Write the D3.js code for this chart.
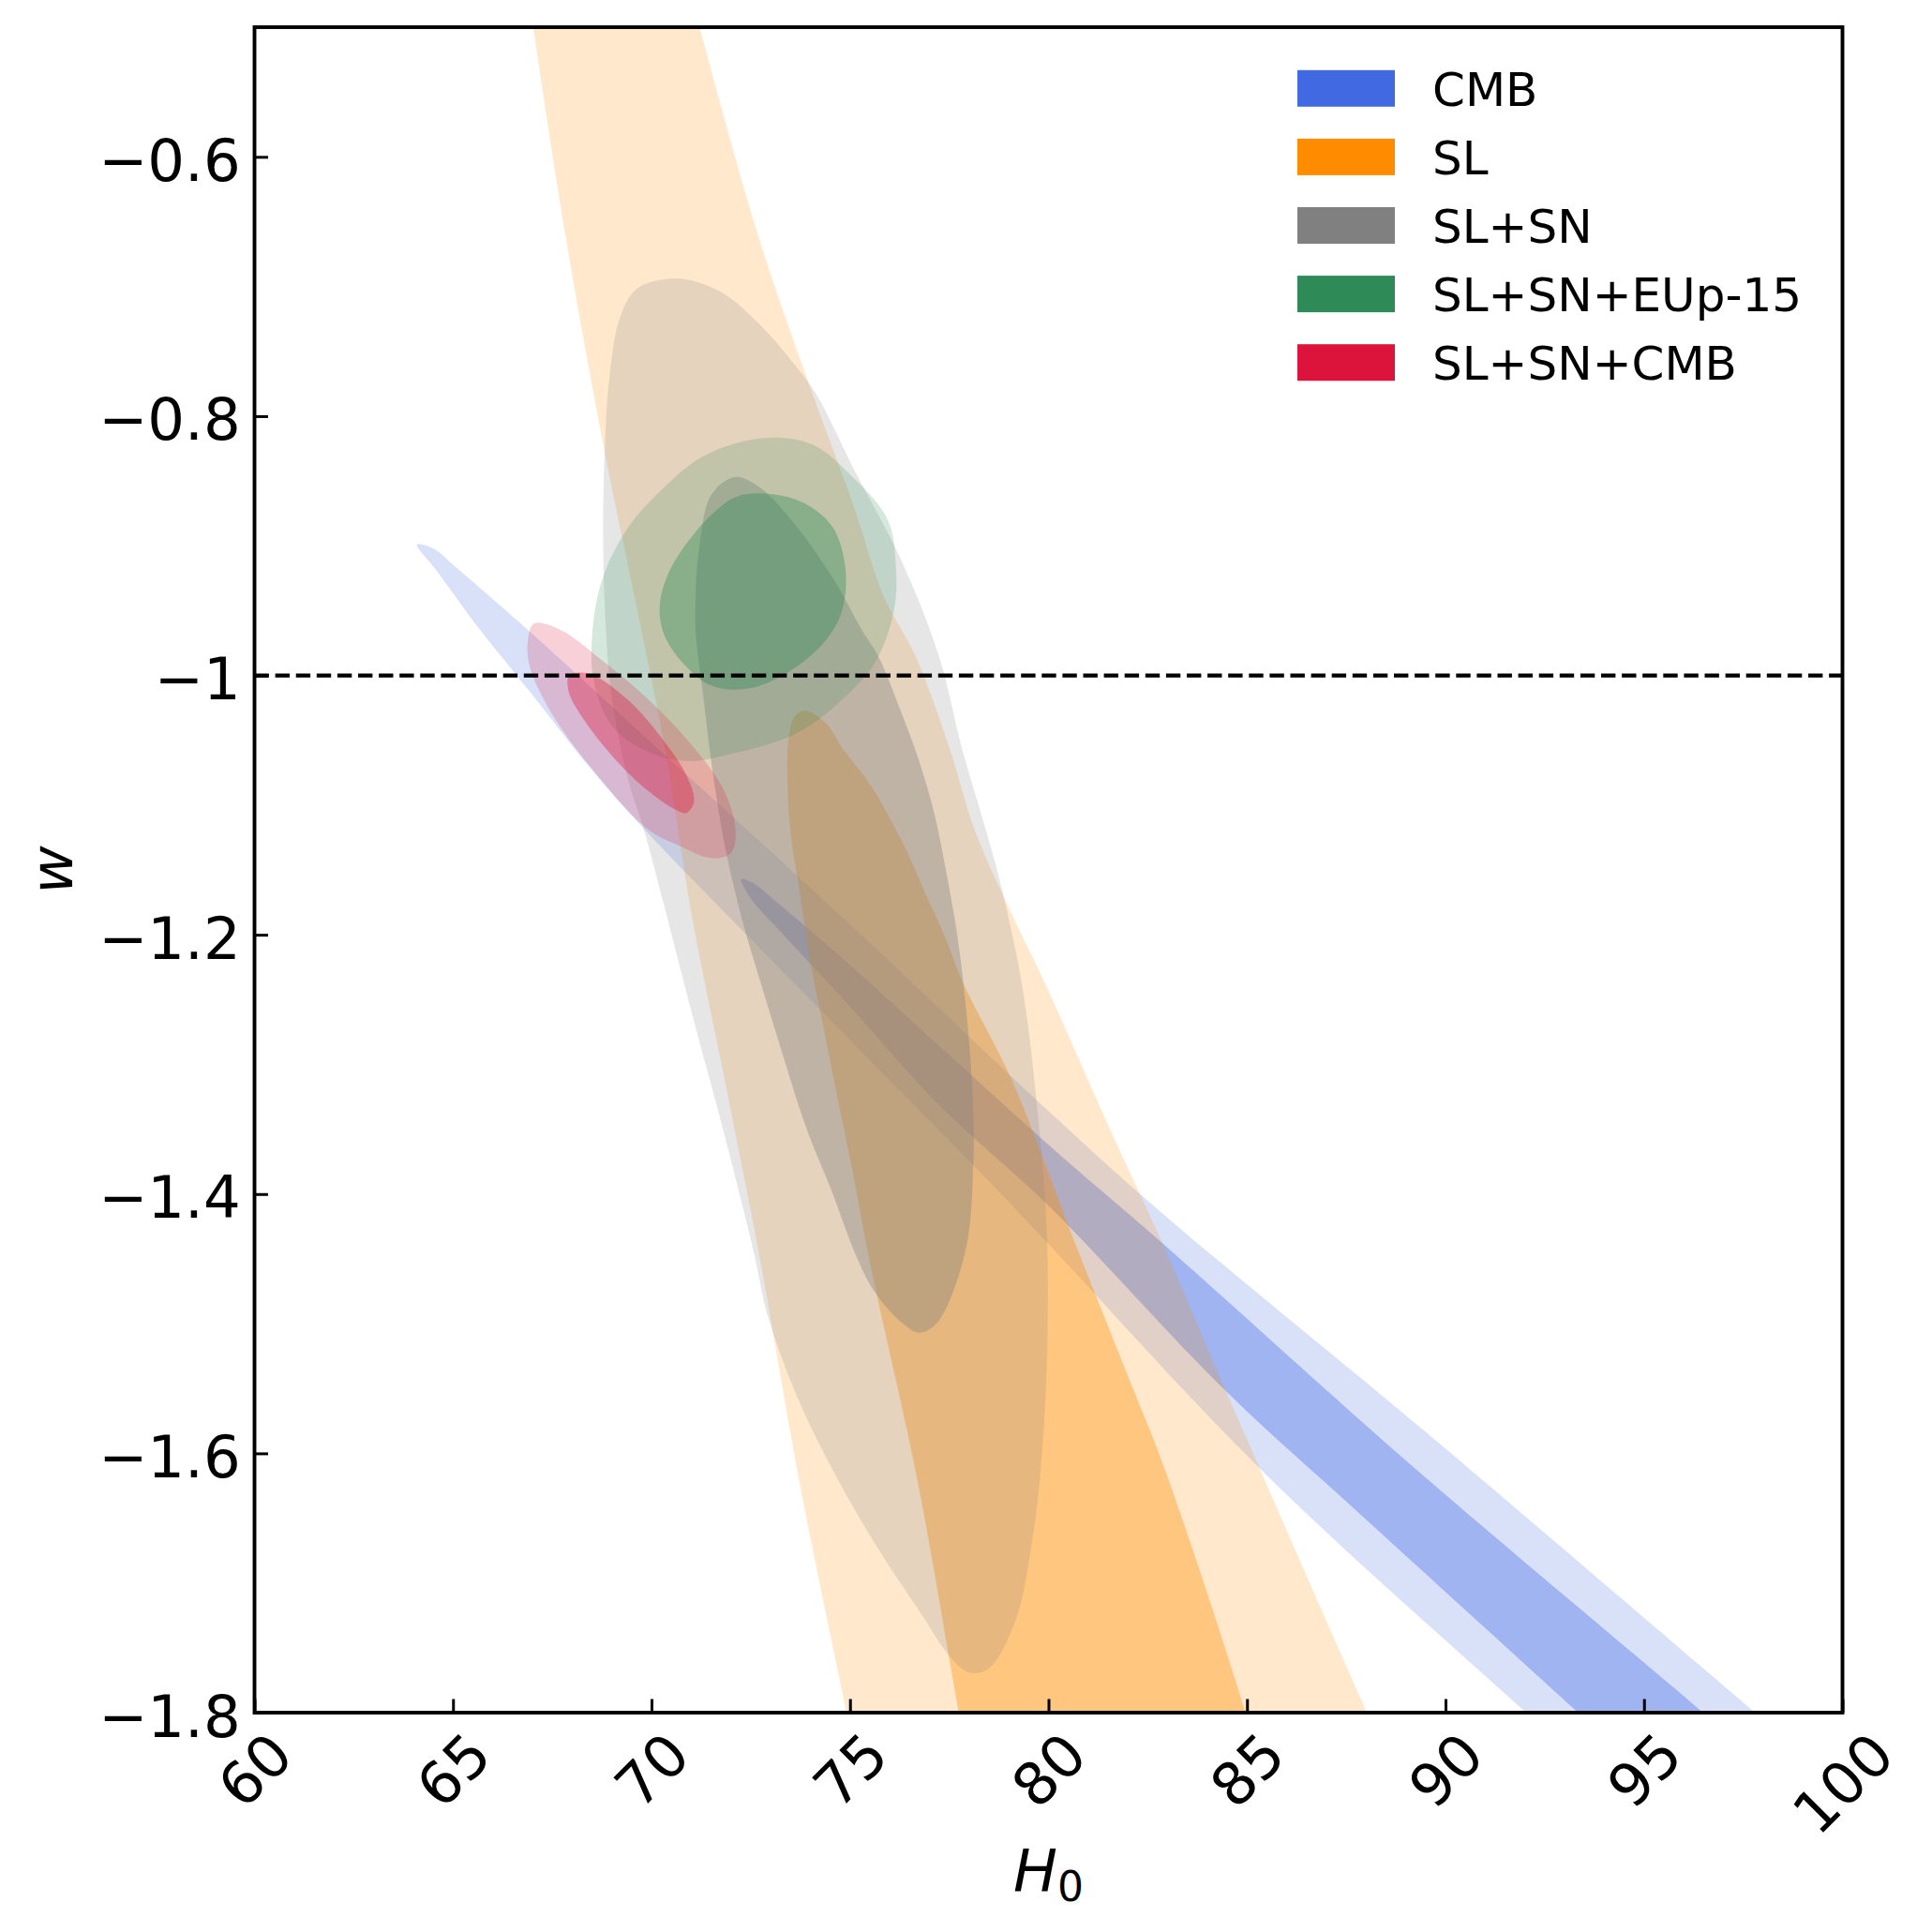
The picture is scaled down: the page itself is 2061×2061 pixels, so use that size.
<!DOCTYPE html>
<html>
<head>
<meta charset="utf-8">
<script src="https://cdn.jsdelivr.net/npm/d3@7"></script>
<style>
  html, body { margin: 0; padding: 0; background: #fff; }
  svg { display: block; }
</style>
</head>
<body>
<svg id="chart"></svg>
<script>
// contour outlines, in data units [H0, w]
var cmbOuter = [[64.09,-0.899],[64.5,-0.902],[65.09,-0.917],[66.67,-0.959],[70.0,-1.052],[75.0,-1.192],[80.0,-1.336],[82.87,-1.415],[89.48,-1.583],[97.80,-1.800],[100.1,-1.86],
                [94.2,-1.86],[92.03,-1.800],[85.4,-1.614],[79.09,-1.409],[74.0,-1.250],[69.80,-1.118],[68.47,-1.072],[67.0,-1.015],[65.61,-0.962],[64.56,-0.918]]
var cmbInner = [[72.26,-1.157],[72.6,-1.161],[73.2,-1.176],[74.84,-1.219],[80.0,-1.362],[82.87,-1.438],[89.32,-1.614],[96.49,-1.800],[98.75,-1.86],
                [95.5,-1.86],[93.34,-1.800],[88.0,-1.651],[84.47,-1.552],[80.0,-1.409],[77.2,-1.330],[74.84,-1.250],[73.2,-1.196],[72.5,-1.172]]

var slOuter = [[66.75,-0.44],[67.02,-0.5],[67.83,-0.66],[68.78,-0.821],[70.3,-1.05],[71.06,-1.1925],[71.85,-1.313],[72.72,-1.448],[73.72,-1.621],[74.91,-1.8],[75.3,-1.86],
               [88.9,-1.86],[88.02,-1.8],[84.47,-1.552],[82.87,-1.438],[81.61,-1.354],[79.92,-1.238],[79.09,-1.185],[78.15,-1.120],[77.52,-1.0575],[76.65,-0.985],[75.85,-0.939],
               [75.10,-0.870],[73.94,-0.773],[72.68,-0.660],[71.21,-0.5],[70.7,-0.44]]
var slInner = [[73.86,-1.027],[73.6,-1.032],[73.45,-1.050],[73.42,-1.072],[73.50,-1.120],[73.74,-1.168],[74.05,-1.229],[74.37,-1.277],[74.68,-1.325],[75.08,-1.385],[75.47,-1.448],
               [76.70,-1.621],[77.74,-1.8],[78.1,-1.86],
               [85.5,-1.86],[84.96,-1.8],[82.95,-1.614],[81.93,-1.535],[80.67,-1.438],[79.09,-1.313],[77.83,-1.236],[77.40,-1.202],[76.97,-1.173],[76.34,-1.130],[75.55,-1.086],
               [74.84,-1.0575],[74.37,-1.036]]

var snOuter = [[70.46,-0.694],[71.2,-0.697],[71.94,-0.708],[72.78,-0.731],[73.52,-0.757],[74.15,-0.783],[75.10,-0.841],[76.32,-0.913],[77.24,-0.985],[77.83,-1.0575],[78.38,-1.115],
               [78.78,-1.159],[79.33,-1.238],[79.72,-1.335],[79.96,-1.431],[79.96,-1.527],[79.80,-1.614],[79.60,-1.665],[79.18,-1.728],[78.49,-1.766],[78.0,-1.769],[77.50,-1.756],
               [76.80,-1.724],[75.80,-1.678],[74.71,-1.621],[73.72,-1.560],[72.92,-1.493],[72.60,-1.448],[72.16,-1.393],[71.69,-1.337],[71.22,-1.284],[70.75,-1.229],[70.28,-1.173],
               [69.80,-1.118],[69.41,-1.080],[68.99,-1.015],[68.83,-0.951],[68.78,-0.886],[68.83,-0.821],[68.93,-0.773],[69.2,-0.7245],[69.62,-0.702]]
var snInner = [[72.10,-0.847],[72.68,-0.854],[73.52,-0.880],[74.57,-0.925],[75.3,-0.965],[75.71,-0.985],[76.26,-1.026],[76.73,-1.065],[77.12,-1.106],[77.44,-1.154],[77.71,-1.202],
               [77.91,-1.253],[78.07,-1.313],[78.11,-1.373],[77.90,-1.445],[77.20,-1.499],[76.75,-1.507],[76.30,-1.499],[75.61,-1.475],[75.16,-1.448],[74.53,-1.397],[73.90,-1.349],
               [73.27,-1.289],[72.79,-1.241],[72.32,-1.1925],[71.85,-1.132],[71.53,-1.072],[71.3,-1.015],[71.12,-0.97],[71.10,-0.951],[71.20,-0.902],[71.52,-0.860]]

var eupOuter = [[72.78,-0.817],[74.05,-0.822],[75.10,-0.848],[75.95,-0.880],[76.16,-0.919],[76.10,-0.951],[75.63,-0.990],[74.68,-1.022],[73.63,-1.045],[71.94,-1.061],[70.88,-1.066],
                [69.83,-1.058],[68.98,-1.038],[68.54,-1.003],[68.51,-0.967],[68.77,-0.925],[69.41,-0.886],[70.25,-0.857],[71.30,-0.831]]
var eupInner = [[72.15,-0.862],[72.99,-0.860],[73.84,-0.867],[74.57,-0.886],[74.89,-0.919],[74.79,-0.951],[74.36,-0.974],[73.52,-0.996],[72.46,-1.010],[71.52,-1.008],[70.78,-0.990],
                [70.30,-0.967],[70.21,-0.945],[70.46,-0.919],[71.09,-0.890],[71.62,-0.873]]

var cmbJointOuter = [[67.04,-0.960],[67.72,-0.965],[68.78,-0.989],[70.04,-1.022],[71.10,-1.057],[71.83,-1.089],[72.12,-1.120],[72.0,-1.137],[71.54,-1.141],[70.67,-1.131],
                     [69.88,-1.118],[68.50,-1.072],[67.50,-1.030],[66.95,-0.995],[66.88,-0.975]]
var cmbJointInner = [[67.93,-1.000],[68.46,-0.999],[69.41,-1.019],[70.25,-1.048],[70.88,-1.077],[71.07,-1.097],[70.88,-1.106],[70.57,-1.103],[69.83,-1.087],[68.98,-1.061],
                     [68.25,-1.032],[67.91,-1.012]]

var names = ["CMB", "SL", "SL+SN", "SL+SN+EUp-15", "SL+SN+CMB"]
var colors = ["#4169E1", "#FF8C00", "#808080", "#2E8B57", "#DC143C"]
var outers = [cmbOuter, slOuter, snOuter, eupOuter, cmbJointOuter]
var inners = [cmbInner, slInner, snInner, eupInner, cmbJointInner]

var xTicks = [60, 65, 70, 75, 80, 85, 90, 95, 100]
var yTicks = [-1.8, -1.6, -1.4, -1.2, -1.0, -0.8, -0.6]
var yTickLabels = ["\u22121.8", "\u22121.6", "\u22121.4", "\u22121.2", "\u22121", "\u22120.8", "\u22120.6"]
var refW = -1

var dimensions = {
    width: 2061,
    height: 2061,
    margin: { top: 29, bottom: 234, left: 271.5, right: 95.5 }
}
var fontFamily = "'DejaVu Sans', sans-serif"

var svg = d3.select("#chart")
            .attr("width", dimensions.width)
            .attr("height", dimensions.height)

svg.append("rect").attr("width", dimensions.width).attr("height", dimensions.height).attr("fill", "white")

var xScale = d3.scaleLinear()
        .domain([60, 100])
        .range([dimensions.margin.left, dimensions.width - dimensions.margin.right])
var yScale = d3.scaleLinear()
        .domain([-1.8, -0.5])
        .range([dimensions.height - dimensions.margin.bottom, dimensions.margin.top])

var x0 = xScale.range()[0], x1 = xScale.range()[1]
var yTop = yScale.range()[1], yBot = yScale.range()[0]

svg.append("clipPath").attr("id", "plotclip")
   .append("rect")
   .attr("x", x0).attr("y", yTop)
   .attr("width", x1 - x0).attr("height", yBot - yTop)

var contour = d3.line()
        .x(d => xScale(d[0]))
        .y(d => yScale(d[1]))
        .curve(d3.curveCatmullRomClosed.alpha(0.5))

var plot = svg.append("g").attr("clip-path", "url(#plotclip)")

names.forEach(function(name, i){
    plot.append("path")
        .attr("d", contour(outers[i]))
        .attr("fill", colors[i])
        .attr("fill-opacity", 0.2)
    plot.append("path")
        .attr("d", contour(inners[i]))
        .attr("fill", colors[i])
        .attr("fill-opacity", 0.375)
})

// w = -1 reference line
plot.append("line")
    .attr("x1", x0).attr("x2", x1)
    .attr("y1", yScale(refW)).attr("y2", yScale(refW))
    .attr("stroke", "black")
    .attr("stroke-width", 4.2)
    .attr("stroke-dasharray", "15.4,6.7")

// axes, ticks pointing inwards
var xAxisGen = d3.axisBottom(xScale).tickValues(xTicks).tickSizeInner(-14.5).tickSizeOuter(0).tickFormat("")
var xAxis = svg.append("g")
        .attr("transform", `translate(0,${yBot})`)
        .call(xAxisGen)
xAxis.select(".domain").remove()
xAxis.selectAll(".tick line").attr("stroke-width", 3)

var yAxisGen = d3.axisLeft(yScale).tickValues(yTicks).tickSizeInner(-14.5).tickSizeOuter(0).tickPadding(14.8)
        .tickFormat((d, i) => yTickLabels[i])
var yAxis = svg.append("g")
        .attr("transform", `translate(${x0},0)`)
        .call(yAxisGen)
yAxis.select(".domain").remove()
yAxis.selectAll(".tick line").attr("stroke-width", 3)
yAxis.selectAll(".tick text")
     .attr("dy", "0.4em")
     .style("font-family", fontFamily)
     .style("font-size", "62.5px")
     .attr("fill", "black")

// rotated x tick labels
var fs = 62.5
xTicks.forEach(function(t){
    var g = svg.append("g")
    var txt = g.append("text")
        .attr("text-anchor", "middle")
        .attr("y", 0.3645 * fs)
        .style("font-family", fontFamily)
        .style("font-size", fs + "px")
        .text(String(t))
    var w = txt.node().getComputedTextLength()
    var cy = yBot + 7 + (w + 1.164 * fs) * 0.3536
    g.attr("transform", `translate(${xScale(t)},${cy}) rotate(-45)`)
})

// axis titles
var xTitle = svg.append("text")
        .attr("x", (x0 + x1) / 2)
        .attr("y", 2018)
        .attr("text-anchor", "middle")
        .style("font-family", fontFamily)
        .style("font-size", "62.5px")
xTitle.append("tspan").style("font-style", "italic").text("H")
xTitle.append("tspan").attr("dy", 10).style("font-size", "44px").text("0")

svg.append("text")
   .attr("transform", `translate(76.7,${(yTop + yBot) / 2}) rotate(-90)`)
   .attr("text-anchor", "middle")
   .style("font-family", fontFamily)
   .style("font-style", "italic")
   .style("font-size", "62.5px")
   .text("w")

// legend
var legend = svg.append("g")
names.forEach(function(name, i){
    var cy = 94.3 + i * 73.1
    legend.append("rect")
        .attr("x", 1384).attr("y", cy - 19.5)
        .attr("width", 104).attr("height", 39)
        .attr("fill", colors[i])
    legend.append("text")
        .attr("x", 1528).attr("y", cy + 18.5)
        .style("font-family", fontFamily)
        .style("font-size", "50px")
        .text(name)
})

// frame
svg.append("rect")
   .attr("x", x0).attr("y", yTop)
   .attr("width", x1 - x0).attr("height", yBot - yTop)
   .attr("fill", "none")
   .attr("stroke", "black")
   .attr("stroke-width", 3.9)
</script>
</body>
</html>
